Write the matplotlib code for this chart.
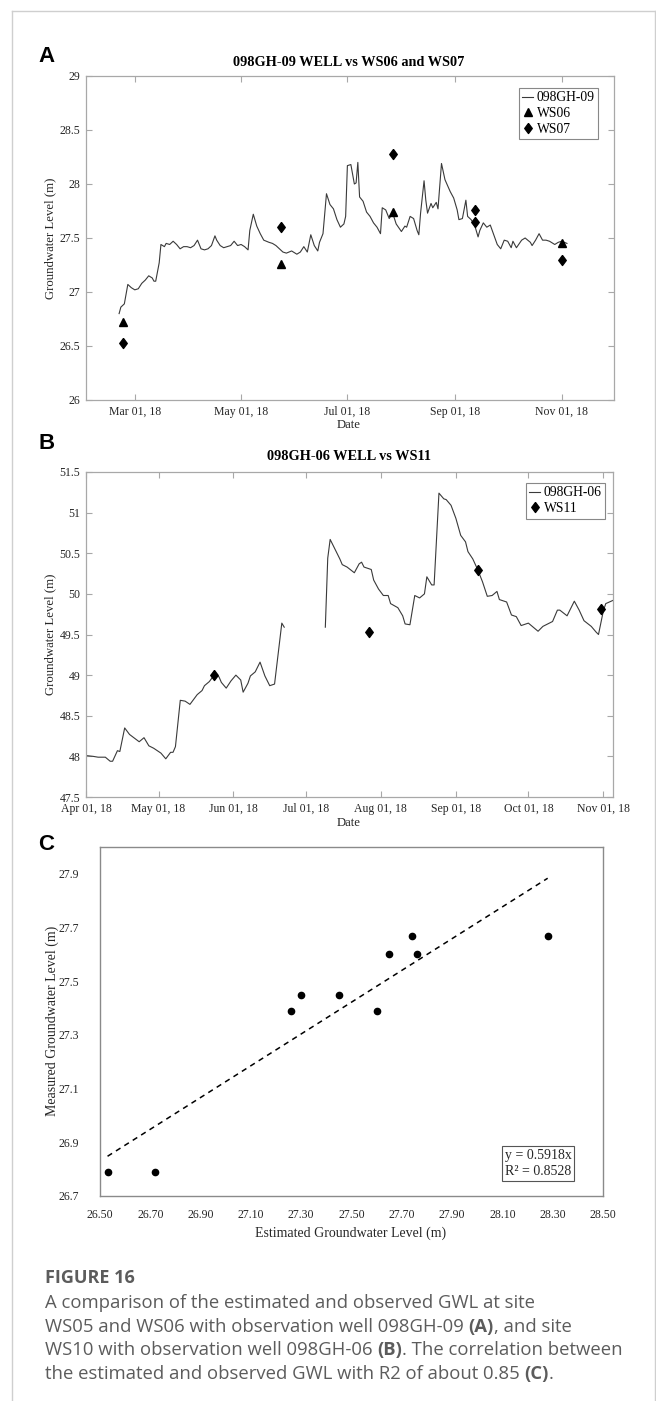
import numpy as np
import matplotlib.pyplot as plt
import matplotlib.dates as mdates
from matplotlib.lines import Line2D
from matplotlib.ticker import FuncFormatter

plt.rcParams['font.family'] = ['Liberation Serif', 'DejaVu Serif']

W, H = 656, 1401  # figure size in pixels

# ---- panel A: 098GH-09 well, days counted from 2018-03-01
a_days = [-9, -8, -6, -4, -2, 0, 2, 4, 6, 8, 10, 11, 12, 14, 15, 17, 18, 20, 22, 24,
          26, 28, 30, 32, 34, 36, 38, 40, 42, 44, 46, 47, 49, 51, 53, 55, 57, 59, 61, 63,
          65, 66, 68, 70, 72, 74, 77, 79, 81, 83, 85, 87, 90, 93, 95, 97, 99, 100, 101, 103,
          105, 106, 108, 110, 112, 114, 116, 118, 120, 121, 122, 124, 126, 127, 128, 129, 131, 133, 135, 137,
          139, 141, 142, 144, 146, 148, 150, 153, 155, 156, 158, 160, 162, 163, 164, 166, 167, 168, 170, 171,
          173, 174, 176, 178, 181, 183, 185, 186, 188, 190, 191, 193, 195, 197, 198, 200, 202, 204, 206, 208,
          210, 212, 214, 216, 217, 219, 222, 224, 227, 228, 230, 232, 234, 236, 238, 241, 243, 245, 248]
a_level = [26.80, 26.86, 26.89, 27.07, 27.04, 27.02, 27.03, 27.08, 27.11, 27.15, 27.13, 27.10, 27.10, 27.27, 27.44, 27.42, 27.45, 27.44, 27.47, 27.44,
           27.40, 27.42, 27.42, 27.41, 27.43, 27.48, 27.40, 27.39, 27.40, 27.43, 27.52, 27.48, 27.43, 27.41, 27.42, 27.43, 27.47, 27.43, 27.44, 27.42,
           27.39, 27.57, 27.72, 27.61, 27.54, 27.48, 27.46, 27.45, 27.43, 27.40, 27.37, 27.36, 27.38, 27.35, 27.37, 27.42, 27.37, 27.45, 27.53, 27.43,
           27.38, 27.46, 27.54, 27.91, 27.81, 27.77, 27.67, 27.60, 27.63, 27.70, 28.17, 28.18, 28.00, 28.01, 28.20, 27.88, 27.84, 27.74, 27.70, 27.64,
           27.60, 27.54, 27.78, 27.76, 27.68, 27.73, 27.63, 27.56, 27.61, 27.60, 27.70, 27.68, 27.57, 27.53, 27.73, 28.03, 27.85, 27.73, 27.82, 27.78,
           27.83, 27.77, 28.19, 28.04, 27.93, 27.87, 27.76, 27.67, 27.68, 27.85, 27.70, 27.67, 27.62, 27.51, 27.57, 27.64, 27.60, 27.62, 27.53, 27.44,
           27.40, 27.48, 27.47, 27.41, 27.47, 27.41, 27.48, 27.50, 27.46, 27.43, 27.48, 27.54, 27.48, 27.48, 27.47, 27.44, 27.46, 27.47, 27.45]
ws06_days = [-7, 84, 148, 245]
ws06_level = [26.72, 27.26, 27.74, 27.45]
ws07_days = [-7, 84, 148, 195, 195, 245]
ws07_level = [26.53, 27.60, 28.28, 27.76, 27.65, 27.30]

# ---- panel B: 098GH-06 well, days counted from 2018-04-01 (nan = no record)
b_days = [0, 3, 5, 8, 10, 11, 13, 14, 16, 18, 22, 24, 26, 28, 31, 33, 35, 36, 37, 39,
          41, 43, 46, 48, 49, 51, 53, 55, 56, 58, 60, 62, 64, 65, 67, 68, 70, 72, 74, 76,
          78, 81, 82, 90, 99, 100, 101, 103, 105, 106, 108, 111, 113, 114, 115, 118, 119, 121, 123, 125,
          126, 129, 131, 132, 134, 136, 138, 140, 141, 143, 144, 146, 148, 149, 151, 153, 155, 157, 158, 160,
          162, 164, 166, 168, 170, 171, 174, 176, 178, 180, 183, 187, 189, 193, 195, 196, 199, 202, 204, 206,
          209, 211, 212, 214, 215, 218]
b_level = [48.01, 48.00, 47.99, 47.99, 47.94, 47.94, 48.07, 48.06, 48.35, 48.27, 48.18, 48.23, 48.13, 48.10, 48.04, 47.97, 48.05, 48.05, 48.12, 48.69,
           48.68, 48.64, 48.76, 48.81, 48.87, 48.92, 49.00, 48.98, 48.91, 48.84, 48.93, 49.00, 48.94, 48.79, 48.90, 48.99, 49.04, 49.16, 48.99, 48.87,
           48.89, 49.64, 49.59, np.nan, 49.59, 50.44, 50.67, 50.55, 50.43, 50.36, 50.33, 50.26, 50.37, 50.39, 50.33, 50.30, 50.17, 50.06, 49.98, 49.98,
           49.88, 49.83, 49.73, 49.63, 49.62, 49.98, 49.95, 50.00, 50.21, 50.11, 50.11, 51.24, 51.17, 51.16, 51.09, 50.93, 50.72, 50.64, 50.52, 50.43,
           50.30, 50.15, 49.97, 49.98, 50.03, 49.93, 49.90, 49.74, 49.72, 49.61, 49.64, 49.54, 49.60, 49.66, 49.80, 49.80, 49.73, 49.91, 49.80, 49.67,
           49.60, 49.53, 49.50, 49.79, 49.88, 49.92]
ws11_days = [53, 117, 162, 213]
ws11_level = [49.00, 49.53, 50.30, 49.81]

# ---- panel C: estimated vs measured
estimated = [26.53, 26.72, 27.26, 27.30, 27.45, 27.60, 27.65, 27.74, 27.76, 28.28]
measured = [26.79, 26.79, 27.39, 27.45, 27.45, 27.39, 27.60, 27.67, 27.60, 27.67]


def rect(l, t, r, b):
    return [l / W, 1 - b / H, (r - l) / W, (b - t) / H]


def ftext(x, y, s, **kw):
    return fig.text(x / W, 1 - y / H, s, **kw)


fig = plt.figure(figsize=(W / 100, H / 100), dpi=100)

# outer frame of the figure page
frame = dict(transform=fig.transFigure, color='#cfcfcf', lw=1.0)
fig.add_artist(Line2D([12 / W, 12 / W], [0, 1 - 11 / H], **frame))
fig.add_artist(Line2D([12 / W, 654.5 / W], [1 - 11 / H, 1 - 11 / H], **frame))
fig.add_artist(Line2D([654.5 / W, 654.5 / W], [0, 1 - 11 / H], **frame))

diamond = [(0, 1), (0.75, 0), (0, -1), (-0.75, 0), (0, 1)]
line_col = '#3a3a3a'
frame_col = '#a8a8a8'
tick_col = '#262626'
g = FuncFormatter(lambda v, p: '%g' % round(v, 2))


def matlab_axes(ax):
    for s in ax.spines.values():
        s.set_color(frame_col)
        s.set_linewidth(0.9)
    ax.tick_params(direction='in', top=True, right=True, length=4, width=0.8,
                   color=frame_col, labelcolor=tick_col, labelsize=8.5, pad=4)
    ax.yaxis.set_major_formatter(g)
    ax.xaxis.set_major_formatter(mdates.DateFormatter('%b %d, %y'))


# ----- A
t0 = np.datetime64('2018-03-01')
axA = fig.add_axes(rect(86, 76, 614, 400))
axA.plot(t0 + np.array(a_days), a_level, color=line_col, lw=0.8, label='098GH-09')
axA.plot(t0 + np.array(ws06_days), ws06_level, ls='none', marker='^', ms=6.3,
         color='black', label='WS06')
axA.plot(t0 + np.array(ws07_days), ws07_level, ls='none', marker=diamond, ms=7.2,
         color='black', label='WS07')
axA.set_xlim(np.datetime64('2018-02-01'), np.datetime64('2018-12-01'))
axA.set_ylim(26, 29)
axA.set_yticks(np.arange(26, 29.01, 0.5))
axA.xaxis.set_major_locator(mdates.MonthLocator(bymonth=[3, 5, 7, 9, 11]))
matlab_axes(axA)
legA = axA.legend(loc='upper right', bbox_to_anchor=(0.97, 0.963), borderaxespad=0,
                  fontsize=9.8, handlelength=0.8, handletextpad=0.25, labelspacing=0.2,
                  borderpad=0.25, fancybox=False, framealpha=1)
legA.get_frame().set_edgecolor('#888888')
legA.get_frame().set_linewidth(0.8)

ftext(38, 56, 'A', family=['Liberation Sans', 'DejaVu Sans'], fontweight='bold',
      fontsize=16, va='center', ha='left')
ftext(349, 62, '098GH-09 WELL vs WS06 and WS07', fontweight='bold', fontsize=10.3,
      ha='center', va='center')
ftext(349, 425, 'Date', fontsize=9.2, ha='center', va='center', color=tick_col)
ftext(50, 238, 'Groundwater Level (m)', fontsize=9.2, ha='center', va='center',
      rotation=90, color=tick_col)

# ----- B
t1 = np.datetime64('2018-04-01')
axB = fig.add_axes(rect(86, 472, 613, 797))
axB.plot(t1 + np.array(b_days), b_level, color=line_col, lw=0.8, label='098GH-06')
axB.plot(t1 + np.array(ws11_days), ws11_level, ls='none', marker=diamond, ms=7.2,
         color='black', label='WS11')
axB.set_xlim(np.datetime64('2018-04-01'), np.datetime64('2018-11-05'))
axB.set_ylim(47.5, 51.5)
axB.set_yticks(np.arange(47.5, 51.51, 0.5))
axB.xaxis.set_major_locator(mdates.MonthLocator())
matlab_axes(axB)
legB = axB.legend(loc='upper right', bbox_to_anchor=(0.985, 0.966), borderaxespad=0,
                  fontsize=9.8, handlelength=0.8, handletextpad=0.25, labelspacing=0.2,
                  borderpad=0.25, fancybox=False, framealpha=1)
legB.get_frame().set_edgecolor('#888888')
legB.get_frame().set_linewidth(0.8)

ftext(38, 444, 'B', family=['Liberation Sans', 'DejaVu Sans'], fontweight='bold',
      fontsize=16, va='center', ha='left')
ftext(349, 457, '098GH-06 WELL vs WS11', fontweight='bold', fontsize=10.3,
      ha='center', va='center')
ftext(349, 823, 'Date', fontsize=9.2, ha='center', va='center', color=tick_col)
ftext(50, 634, 'Groundwater Level (m)', fontsize=9.2, ha='center', va='center',
      rotation=90, color=tick_col)

# ----- C
axC = fig.add_axes(rect(100, 847, 603, 1196))
axC.plot(estimated, measured, ls='none', marker='o', ms=4.5, color='black')
coef = np.polyfit(estimated, measured, 1)
fx = np.array([min(estimated), max(estimated)])
axC.plot(fx, np.polyval(coef, fx), ls='--', dashes=(3.5, 3), lw=1.1, color='black')
axC.set_xlim(26.5, 28.5)
axC.set_ylim(26.7, 28.0)
axC.set_xticks(np.arange(26.5, 28.51, 0.2))
axC.set_yticks(np.arange(26.7, 27.91, 0.2))
axC.xaxis.set_major_formatter(FuncFormatter(lambda v, p: '%.2f' % v))
axC.yaxis.set_major_formatter(FuncFormatter(lambda v, p: '%.1f' % v))
axC.tick_params(length=0, labelsize=8.5, labelcolor=tick_col)
axC.tick_params(axis='x', pad=9)
axC.tick_params(axis='y', pad=15)
for s in axC.spines.values():
    s.set_color('#8a8a8a')
    s.set_linewidth(1.0)
ftext(538, 1163.5, 'y = 0.5918x\nR² = 0.8528', fontsize=10, ha='center', va='center',
      multialignment='left', linespacing=1.25, color=tick_col,
      bbox=dict(boxstyle='square,pad=0.2', fc='white', ec='#555555', lw=0.8))

ftext(38, 845, 'C', family=['Liberation Sans', 'DejaVu Sans'], fontweight='bold',
      fontsize=16, va='center', ha='left')
ftext(351, 1233, 'Estimated Groundwater Level (m)', fontsize=10, ha='center',
      va='center', color=tick_col)
ftext(52, 1021, 'Measured Groundwater Level (m)', fontsize=10, ha='center',
      va='center', rotation=90, color=tick_col)

# ----- caption
cap = dict(family=['Open Sans', 'DejaVu Sans'], color='#5c5c5c', va='baseline')
ftext(45, 1283, 'FIGURE 16', fontsize=13, fontweight='bold', **cap)
renderer = fig.canvas.get_renderer()
caption = [
    [('A comparison of the estimated and observed GWL at site', 'normal')],
    [('WS05 and WS06 with observation well 098GH-09 ', 'normal'), ('(A)', 'bold'),
     (', and site', 'normal')],
    [('WS10 with observation well 098GH-06 ', 'normal'), ('(B)', 'bold'),
     ('. The correlation between', 'normal')],
    [('the estimated and observed GWL with R2 of about 0.85 ', 'normal'), ('(C)', 'bold'),
     ('.', 'normal')],
]
for i, parts in enumerate(caption):
    x = 45
    y = 1308 + i * 23.6
    for s, wt in parts:
        t = ftext(x, y, s, fontsize=13.3, fontweight=wt, **cap)
        x += t.get_window_extent(renderer).width

fig.savefig('out.png', dpi=100)
